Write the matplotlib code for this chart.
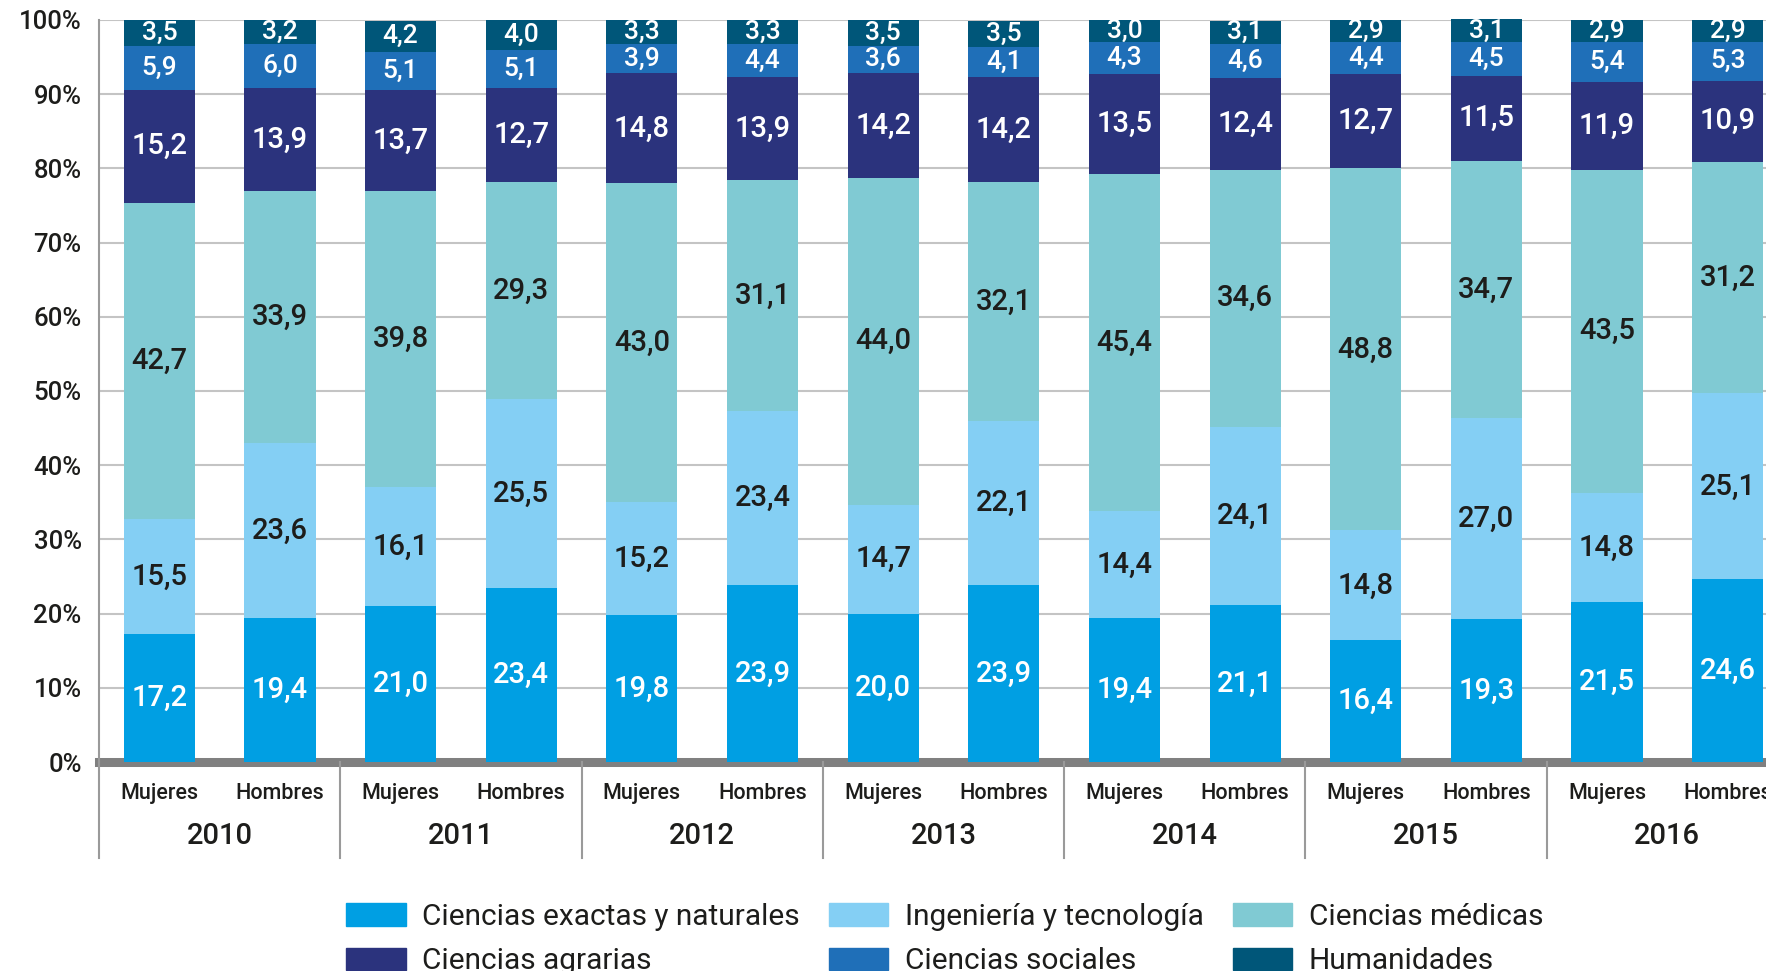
import matplotlib
matplotlib.use("Agg")
import matplotlib.pyplot as plt
from matplotlib.patches import Patch

plt.rcParams["font.family"] = ["Roboto", "DejaVu Sans"]

# ---- data (Mujeres, Hombres per year) ----
years = ["2010", "2011", "2012", "2013", "2014", "2015", "2016"]
sexos = ["Mujeres", "Hombres"]

exactas = [17.2, 19.4, 21.0, 23.4, 19.8, 23.9, 20.0, 23.9, 19.4, 21.1, 16.4, 19.3, 21.5, 24.6]
ingenieria = [15.5, 23.6, 16.1, 25.5, 15.2, 23.4, 14.7, 22.1, 14.4, 24.1, 14.8, 27.0, 14.8, 25.1]
medicas = [42.7, 33.9, 39.8, 29.3, 43.0, 31.1, 44.0, 32.1, 45.4, 34.6, 48.8, 34.7, 43.5, 31.2]
agrarias = [15.2, 13.9, 13.7, 12.7, 14.8, 13.9, 14.2, 14.2, 13.5, 12.4, 12.7, 11.5, 11.9, 10.9]
sociales = [5.9, 6.0, 5.1, 5.1, 3.9, 4.4, 3.6, 4.1, 4.3, 4.6, 4.4, 4.5, 5.4, 5.3]
humanidades = [3.5, 3.2, 4.2, 4.0, 3.3, 3.3, 3.5, 3.5, 3.0, 3.1, 2.9, 3.1, 2.9, 2.9]

series = [
    ("Ciencias exactas y naturales", exactas, "#009fe3", "white"),
    ("Ingeniería y tecnología", ingenieria, "#84cff4", "#1d1d1b"),
    ("Ciencias médicas", medicas, "#80cad3", "#1d1d1b"),
    ("Ciencias agrarias", agrarias, "#2b337d", "white"),
    ("Ciencias sociales", sociales, "#1f6fb8", "white"),
    ("Humanidades", humanidades, "#005679", "white"),
]

W, H = 1766, 971
fig = plt.figure(figsize=(W / 100, H / 100), dpi=100)
# axes run past the right edge, as in the original (last bar is cut)
ax = fig.add_axes([99 / W, 1 - 762 / H, 1689 / W, 742 / H])

n = len(years) * len(sexos)
xs = [i + 0.5 for i in range(n)]
bottoms = [0.0] * n
for name, vals, color, tcolor in series:
    ax.bar(xs, vals, width=0.59, bottom=bottoms, color=color, zorder=2, clip_on=False)
    for x, b, v in zip(xs, bottoms, vals):
        fs = 19 if name in ("Ciencias sociales", "Humanidades") else 21
        ax.text(x, b + v / 2, f"{v:.1f}".replace(".", ","), ha="center", va="center",
                color=tcolor, fontsize=fs, fontweight="medium", zorder=3)
    bottoms = [b + v for b, v in zip(bottoms, vals)]

ax.set_xlim(0, n)
ax.set_ylim(0, 100)
ax.set_yticks(range(0, 101, 10))
ax.set_yticklabels([f"{v}%" for v in range(0, 101, 10)], fontsize=18.5, color="#1d1d1b",
                   fontweight="medium")
ax.tick_params(axis="y", length=0, pad=12.5)
ax.set_xticks([])
ax.yaxis.grid(True, color="#c4c4c4", lw=1.5, zorder=0)
ax.set_axisbelow(True)
for s in ["top", "right", "bottom"]:
    ax.spines[s].set_visible(False)
ax.spines["left"].set_color("#9a9a9a")
ax.spines["left"].set_linewidth(1.5)

# thick grey baseline
ax.axhline(0, color="#808080", lw=6.5, zorder=1.5, clip_on=False)

# category / year labels and group separators
tr = ax.get_xaxis_transform()
for g, yr in enumerate(years):
    for j, s in enumerate(sexos):
        ax.text(2 * g + j + 0.5, -0.043, s, transform=tr, ha="center", va="center",
                fontsize=15.5, color="#1d1d1b", fontweight="medium")
    ax.text(2 * g + 1, -0.1, yr, transform=tr, ha="center", va="center",
            fontsize=21, color="#1d1d1b", fontweight="medium")
for k in range(len(years) + 1):
    ax.plot([2 * k, 2 * k], [0, -0.129], transform=tr, color="#9a9a9a", lw=1.5, clip_on=False)

# legend, filled row by row
handles = [Patch(color=c) for _, _, c, _ in series]
labels = [name for name, _, _, _ in series]
order = [0, 3, 1, 4, 2, 5]
fig.legend([handles[i] for i in order], [labels[i] for i in order], ncol=3,
           loc="upper left", bbox_to_anchor=(346 / W, 1 - 903 / H), frameon=False,
           fontsize=21.5, handlelength=2.0, handleheight=0.8, handletextpad=0.54,
           columnspacing=0.98, labelspacing=0.55, borderpad=0, borderaxespad=0,
           labelcolor="#1d1d1b")

fig.savefig("out.png", dpi=100)
